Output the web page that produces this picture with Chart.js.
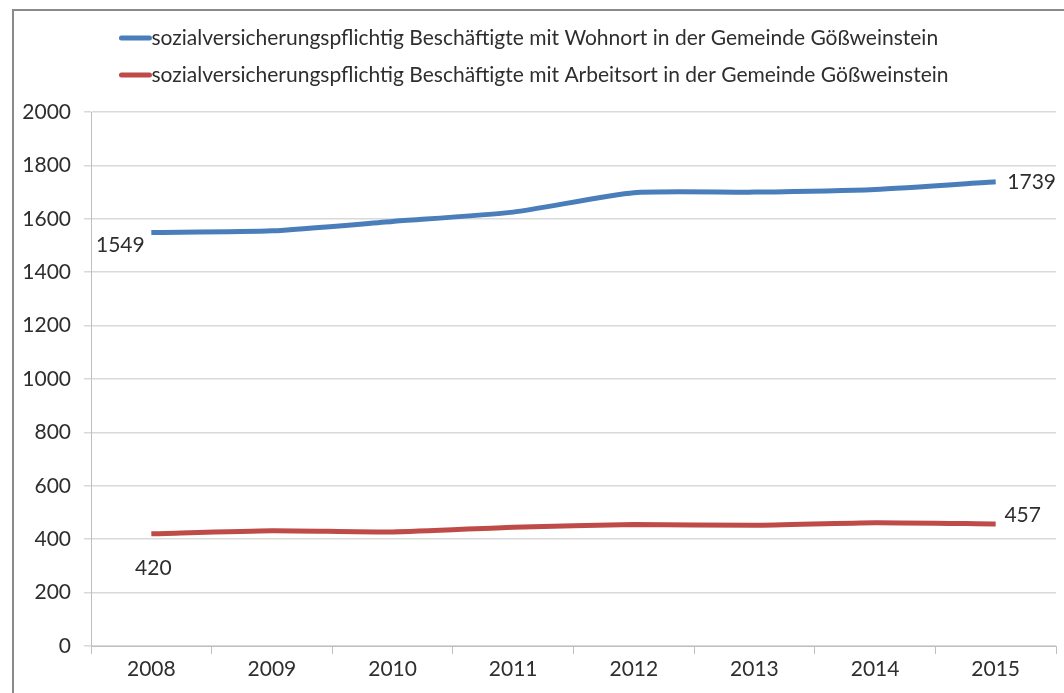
<!DOCTYPE html>
<html>
<head>
<meta charset="utf-8">
<script src="https://cdn.jsdelivr.net/npm/chart.js@4"></script>
<style>
  html, body { margin: 0; padding: 0; background: #fff; }
  #wrap { position: relative; width: 1064px; height: 693px; overflow: hidden; }
  #rahmen { position: absolute; left: 12px; top: 9px; width: 1100px; height: 800px;
            border: 2px solid #8a8a8a; box-sizing: border-box; pointer-events: none; }
</style>
</head>
<body>
<div id="wrap">
  <canvas id="grafik" width="1064" height="693"></canvas>
  <div id="rahmen"></div>
</div>
<script>
const jahre = ['2008', '2009', '2010', '2011', '2012', '2013', '2014', '2015'];
const wohnort = [1549, 1555, 1590, 1625, 1698, 1700, 1710, 1739];
const arbeitsort = [420, 432, 427, 445, 455, 452, 462, 457];
const yTicks = [0, 200, 400, 600, 800, 1000, 1200, 1400, 1600, 1800, 2000];

const schrift = 'Lato, "Noto Sans", sans-serif';
const textFarbe = '#2e2e2e';

// Legende oben, zwei Zeilen, gemeinsam linksbündig und als Block zentriert
const legendePlugin = {
  id: 'legende',
  afterDraw(chart) {
    const ctx = chart.ctx;
    ctx.save();
    ctx.font = '21px ' + schrift;
    ctx.textBaseline = 'middle';
    const sets = chart.data.datasets;
    const maxW = Math.max(...sets.map(ds => ctx.measureText(ds.label).width)) + 32;
    const x0 = (1064 - maxW) / 2 + 2;
    sets.forEach((ds, i) => {
      const y = 38 + i * 37;
      ctx.strokeStyle = ds.borderColor;
      ctx.lineWidth = 5;
      ctx.lineCap = 'round';
      ctx.beginPath();
      ctx.moveTo(x0 + 2, y);
      ctx.lineTo(x0 + 30, y);
      ctx.stroke();
      ctx.fillStyle = textFarbe;
      ctx.fillText(ds.label, x0 + 32, y);
    });
    ctx.restore();
  }
};

// Werte am ersten und letzten Punkt
const wertePlugin = {
  id: 'werte',
  afterDatasetsDraw(chart) {
    const ctx = chart.ctx;
    ctx.save();
    ctx.font = '21px ' + schrift;
    ctx.fillStyle = textFarbe;
    ctx.textBaseline = 'middle';
    ctx.textAlign = 'center';
    const ablage = [
      [[-31, 13], [36, 1]],
      [[2, 34], [27, -9]]
    ];
    chart.data.datasets.forEach((ds, i) => {
      const pts = chart.getDatasetMeta(i).data;
      [0, pts.length - 1].forEach((k, j) => {
        const p = pts[k];
        ctx.fillText(String(ds.data[k]), p.x + ablage[i][j][0], p.y + ablage[i][j][1]);
      });
    });
    ctx.restore();
  }
};

new Chart(document.getElementById('grafik').getContext('2d'), {
  type: 'line',
  data: {
    labels: jahre,
    datasets: [{
      label: 'sozialversicherungspflichtig Beschäftigte mit Wohnort in der Gemeinde Gößweinstein',
      data: wohnort,
      borderColor: '#4a7ebb',
      backgroundColor: '#4a7ebb',
      borderWidth: 5,
      tension: 0.2,
      pointRadius: 0,
      fill: false
    }, {
      label: 'sozialversicherungspflichtig Beschäftigte mit Arbeitsort in der Gemeinde Gößweinstein',
      data: arbeitsort,
      borderColor: '#be4b48',
      backgroundColor: '#be4b48',
      borderWidth: 5,
      tension: 0.2,
      pointRadius: 0,
      fill: false
    }]
  },
  options: {
    responsive: false,
    animation: false,
    layout: { padding: { top: 112, right: 8, bottom: 0, left: 0 } },
    plugins: {
      legend: { display: false },
      tooltip: { enabled: false }
    },
    scales: {
      x: {
        offset: true,
        grid: { display: true, drawOnChartArea: false, offset: true, color: '#bfbfbf', tickLength: 8 },
        border: { color: '#bfbfbf', width: 1 },
        ticks: { color: textFarbe, font: { family: schrift, size: 21 }, padding: 3, maxRotation: 0 },
        afterFit(s) { s.height = 693 - 646; }
      },
      y: {
        min: 0,
        max: 2000,
        afterBuildTicks(s) { s.ticks = yTicks.map(v => ({ value: v })); },
        grid: { color: '#d9d9d9', tickLength: 7, lineWidth: 1.5 },
        border: { color: '#bfbfbf', width: 1 },
        ticks: { color: textFarbe, font: { family: schrift, size: 21 }, padding: 13,
                 callback: v => String(v) },
        afterFit(s) { s.width = 91; }
      }
    }
  },
  plugins: [legendePlugin, wertePlugin]
});
</script>
</body>
</html>
